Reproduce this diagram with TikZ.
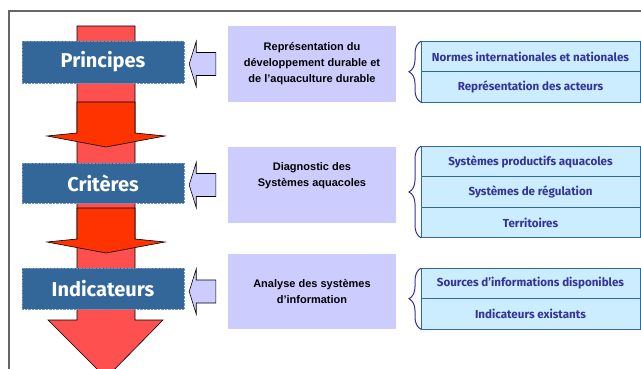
\documentclass[tikz,border=0pt]{standalone}
\usepackage{fontspec}
\setmainfont{Liberation Sans}
\newfontfamily\comicfont{Fira Sans}
\usetikzlibrary{calc,positioning,decorations.pathreplacing}

\definecolor{shaftred}{HTML}{FF5050}
\definecolor{darkred}{HTML}{FF3300}
\definecolor{boxblue}{HTML}{336699}
\definecolor{lavender}{HTML}{CCCCFF}
\definecolor{paleblue}{HTML}{CCECFF}
\definecolor{inkblue}{HTML}{333399}
\definecolor{framegray}{HTML}{666666}

\tikzset{
  stage/.style={fill=boxblue,draw=boxblue!70,densely dotted,line width=0.4pt,
    minimum width=162pt,inner sep=0pt,text=white,
    font=\comicfont\bfseries\fontsize{20}{20}\selectfont},
  theme/.style={fill=lavender,minimum width=168pt,inner sep=0pt,align=center,
    font=\bfseries\fontsize{11}{16}\selectfont},
  themetext/.style={align=center,inner sep=0pt,
    font=\bfseries\fontsize{11}{16}\selectfont},
  item/.style={fill=paleblue,draw=boxblue,line width=0.8pt,minimum width=219pt,
    minimum height=30.5pt,inner sep=0pt,outer sep=0pt,text=inkblue,
    font=\comicfont\bfseries\fontsize{11.6}{12}\selectfont},
  bracket/.style={draw=inkblue,line width=1pt,
    decorate,decoration={brace,amplitude=12pt}}
}

\begin{document}
\begin{tikzpicture}[x=1pt,y=-1pt]
  \useasboundingbox (0,0) rectangle (641,369);
  \clip (0,0) rectangle (641,369);

  % outer frame, cut by the page
  \draw [framegray,line width=1.3pt] (9,385) -- (9,11) -- (660,11);

  % the long arrow first
  \draw [fill=shaftred,line width=0.6pt]
    (77,26) -- (135,26) -- (135,320) -- (163,320) -- (106,378)
    -- (48,320) -- (77,320) -- cycle;

  % the two short arrows on it
  \foreach \top/\wing in {102/136,208/242}
    \draw [fill=darkred,line width=0.6pt]
      (77,\top) -- (135,\top) -- (135,\wing-3) -- (165,\wing)
      -- (106,\wing+11) -- (47,\wing) -- (77,\wing-3) -- cycle;

  % the three stages
  \node [stage,minimum height=42pt] (principes) at (103,62) {Principes};
  \node [stage,minimum height=40pt] (criteres) at (103,183) {Critères};
  \node [stage,minimum height=41pt] (indicateurs) at (103,288.5) {Indicateurs};

  % what each stage comes from
  \node [theme,minimum height=76pt] (repr) at (312,64)
    {Représentation du\\développement durable et\\de l’aquaculture durable};
  \node [theme,minimum height=76pt,
    label={[name=diagtext,themetext,yshift=9pt]center:Diagnostic des\\Systèmes aquacoles}]
    (diag) at (312,185) {};
  \node [theme,minimum height=75pt] (analyse) at (312,291.5)
    {Analyse des systèmes\\d’information};

  % block arrows pointing back to the stages
  \foreach \stg/\thm in {principes/repr,criteres/diag,indicateurs/analyse}
    \draw [fill=lavender,line width=0.6pt]
      let \p1=(\stg.east), \p2=(\thm.west) in
      (\x1+5pt,\y2) -- (\x1+12pt,\y2+22.5pt) -- (\x1+12pt,\y2+11.5pt)
      -- (\x2-12pt,\y2+11.5pt) -- (\x2-12pt,\y2-11.5pt)
      -- (\x1+12pt,\y2-11.5pt) -- (\x1+12pt,\y2-22.5pt) -- cycle;

  % the lists on the right
  \node [item] (normes) at (530.5,56.5) {Normes internationales et nationales};
  \node [item,below=0pt of normes] (acteurs) {Représentation des acteurs};

  \node [item] (productifs) at (530.5,161.5) {Systèmes productifs aquacoles};
  \node [item,below=0pt of productifs] (regulation) {Systèmes de régulation};
  \node [item,below=0pt of regulation] (territoires) {Territoires};

  \node [item] (sources) at (530.5,283.5) {Sources d’informations disponibles};
  \node [item,below=0pt of sources] (existants) {Indicateurs existants};

  % braces
  \draw [bracket] (acteurs.south west) -- (normes.north west);
  \draw [bracket] (territoires.south west) -- (productifs.north west);
  \draw [bracket] (existants.south west) -- (sources.north west);
\end{tikzpicture}
\end{document}
